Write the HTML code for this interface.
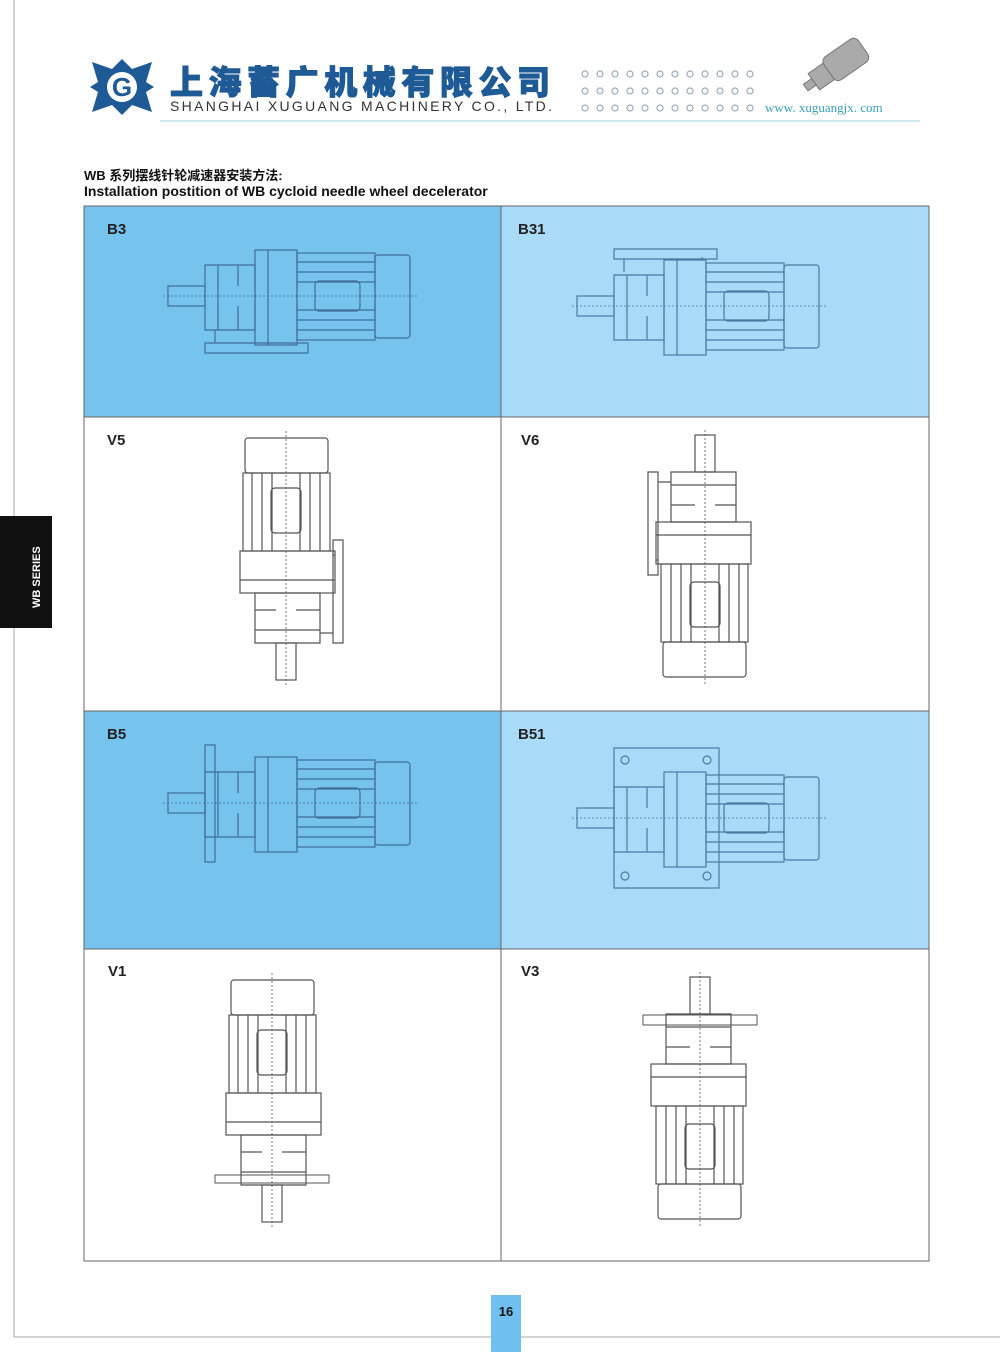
<!DOCTYPE html>
<html><head><meta charset="utf-8"><style>
body{margin:0;background:#fff;width:1000px;height:1352px;overflow:hidden;position:relative;font-family:"Liberation Sans","Noto Sans CJK SC",sans-serif}
.abs{position:absolute}
</style></head><body>
<svg class="abs" style="left:0;top:0" width="1000" height="1352" viewBox="0 0 1000 1352">
<defs>
<g id="m" fill="none" stroke-width="1.2">
 <rect x="0" y="-10" width="37" height="20"/>
 <path d="M37 -31 H87 V34 H37 Z M50 -31 V34 M70 -31 V-10 M70 10 V34"/>
 <rect x="87" y="-46" width="42" height="95"/>
 <path d="M100 -46 V49"/>
 <rect x="129" y="-43" width="78" height="87"/>
 <path d="M129 -34 H207 M129 -24 H207 M129 -14 H207 M129 14 H207 M129 24 H207 M129 34 H207"/>
 <rect x="147" y="-15" width="45" height="30" rx="4"/>
 <rect x="207" y="-41" width="35" height="83" rx="3"/>
 <path d="M-5 0 H250" stroke-dasharray="2 2" stroke-width="0.8"/>
</g>
<g id="foot" fill="none" stroke-width="1.2"><path d="M37 47 H140 V57 H37 Z M47 34 V47 M125 49 V47"/></g>
<g id="fl5" fill="none" stroke-width="1.2"><rect x="37" y="-58" width="10" height="117"/></g>
<g id="fl51" fill="none" stroke-width="1.2"><rect x="37" y="-70" width="105" height="140"/><circle cx="48" cy="-58" r="4"/><circle cx="130" cy="-58" r="4"/><circle cx="48" cy="58" r="4"/><circle cx="130" cy="58" r="4"/></g>
</defs>
<path d="M14 0 V1337 H1000" fill="none" stroke="#aaa" stroke-width="1"/>
<g transform="translate(122,87)">
 <path d="M-30 -25 L-10 -18 L0 -28 L10 -18 L30 -25 L24 -5 L32 0 L24 5 L30 25 L10 18 L0 28 L-10 18 L-30 25 L-24 5 L-32 0 L-24 -5 Z" fill="#1e5a96"/>
 <circle r="15" fill="#fff"/><text x="0" y="9" font-size="26" font-weight="bold" fill="#1e5a96" text-anchor="middle">G</text>
</g>
<text x="170" y="94" font-size="33" font-weight="900" fill="#1e5a96" stroke="#1e5a96" stroke-width="1" textLength="380">上海蓄广机械有限公司</text>
<text x="170" y="111" font-size="14" fill="#333" textLength="382">SHANGHAI XUGUANG MACHINERY CO., LTD.</text>
<g fill="none" stroke="#9ab" stroke-width="1.2">
<g id="dots"><circle cx="585" cy="74" r="3"/><circle cx="600" cy="74" r="3"/><circle cx="615" cy="74" r="3"/><circle cx="630" cy="74" r="3"/><circle cx="645" cy="74" r="3"/><circle cx="660" cy="74" r="3"/><circle cx="675" cy="74" r="3"/><circle cx="690" cy="74" r="3"/><circle cx="705" cy="74" r="3"/><circle cx="720" cy="74" r="3"/><circle cx="735" cy="74" r="3"/><circle cx="750" cy="74" r="3"/></g>
<use href="#dots" y="17"/><use href="#dots" y="34"/></g>
<text x="765" y="112" font-size="13" fill="#3aa0b8" font-family="Liberation Serif,serif">www. xuguangjx. com</text>
<path d="M160 121 H920" stroke="#bfe0e8" stroke-width="1.5"/>
<g transform="translate(845,60) rotate(-35)" fill="#aaa" stroke="#777"><rect x="-20" y="-14" width="42" height="28" rx="6"/><rect x="-38" y="-10" width="18" height="20"/><rect x="-48" y="-4" width="10" height="8"/></g>
<text x="84" y="180" font-size="13" font-weight="bold" fill="#111">WB 系列摆线针轮减速器安装方法:</text>
<text x="84" y="196" font-size="14" font-weight="bold" fill="#111">Installation postition of WB cycloid needle wheel decelerator</text>
<rect x="84" y="206" width="417" height="211" fill="#76c3ee"/>
<rect x="501" y="206" width="428" height="211" fill="#a9dbf8"/>
<rect x="84" y="711" width="417" height="238" fill="#76c3ee"/>
<rect x="501" y="711" width="428" height="238" fill="#a9dbf8"/>
<g fill="none" stroke="#666" stroke-width="1"><rect x="84" y="206" width="845" height="1055"/><path d="M501 206 V1261 M84 417 H929 M84 711 H929 M84 949 H929"/></g>
<g font-size="15" font-weight="bold" fill="#222"><text x="107" y="234">B3</text><text x="518" y="234">B31</text><text x="107" y="445">V5</text><text x="521" y="445">V6</text><text x="107" y="739">B5</text><text x="518" y="739">B51</text><text x="108" y="976">V1</text><text x="521" y="976">V3</text></g>
<g stroke="#3f6f98"><use href="#m" transform="translate(168,296)"/><use href="#foot" transform="translate(168,296)"/></g>
<g stroke="#4a7aa0"><use href="#m" transform="translate(577,306)"/><use href="#foot" transform="translate(577,306) scale(1,-1)"/></g>
<g stroke="#555"><use href="#m" transform="translate(286,680) rotate(-90)"/><use href="#foot" transform="translate(286,680) rotate(-90)"/></g>
<g stroke="#555"><use href="#m" transform="translate(705,435) rotate(90)"/><use href="#foot" transform="translate(705,435) rotate(90)"/></g>
<g stroke="#3f6f98"><use href="#m" transform="translate(168,803)"/><use href="#fl5" transform="translate(168,803)"/></g>
<g stroke="#4a7aa0"><use href="#m" transform="translate(577,818)"/><use href="#fl51" transform="translate(577,818)"/></g>
<g stroke="#555"><use href="#m" transform="translate(272,1222) rotate(-90)"/><rect x="215" y="1175" width="114" height="8" fill="none"/></g>
<g stroke="#555"><use href="#m" transform="translate(700,977) rotate(90)"/><rect x="643" y="1015" width="114" height="10" fill="none"/></g>
<rect x="0" y="516" width="52" height="112" fill="#111"/>
<text transform="translate(40,608) rotate(-90)" font-size="11" font-weight="bold" fill="#fff">WB SERIES</text>
<rect x="491" y="1295" width="30" height="57" fill="#6fc0ee"/>
<text x="506" y="1316" font-size="13" font-weight="bold" fill="#111" text-anchor="middle">16</text>
</svg>
</body></html>
